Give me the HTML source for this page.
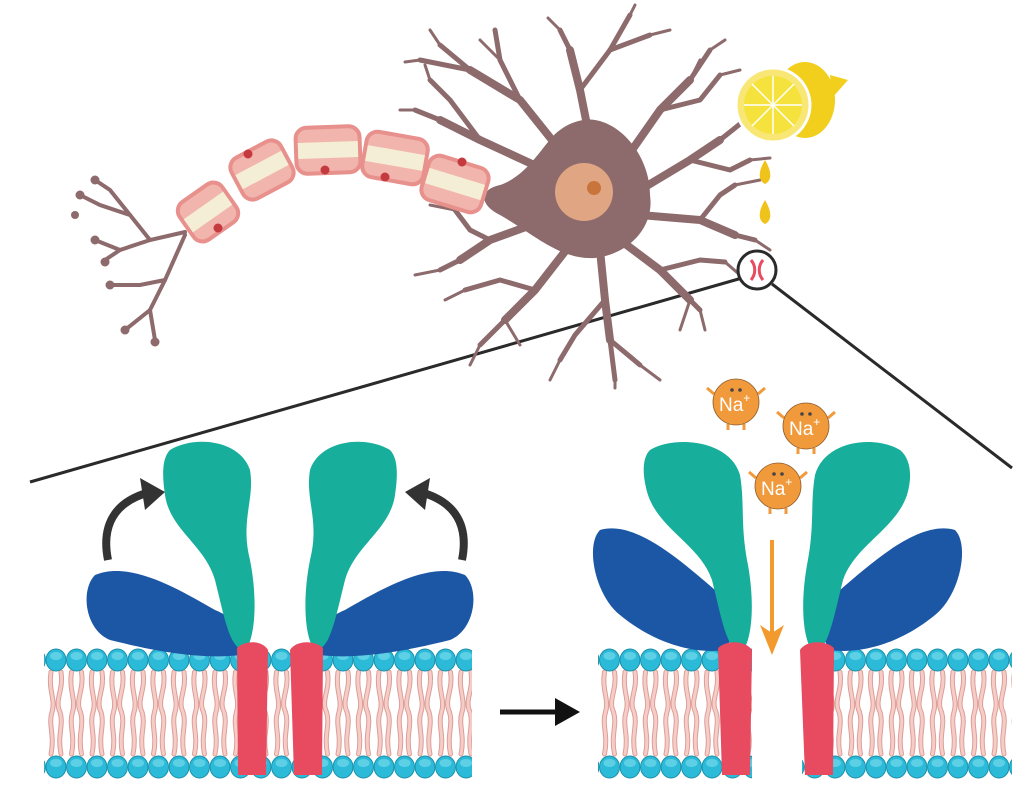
<!DOCTYPE html>
<html><head><meta charset="utf-8"><style>html,body{margin:0;padding:0;background:#fff}svg{display:block}</style></head><body>
<svg width="1024" height="788" viewBox="0 0 1024 788" xmlns="http://www.w3.org/2000/svg">
<defs>
<pattern id="heads" x="46" y="0" width="20.5" height="788" patternUnits="userSpaceOnUse">
<ellipse cx="10" cy="660" rx="10" ry="11" fill="#2bbad8" stroke="#1a8fa8" stroke-width="1"/>
<ellipse cx="10" cy="656" rx="6" ry="4" fill="#7fe0f0" opacity="0.6"/>
<ellipse cx="10" cy="767" rx="10" ry="11" fill="#2bbad8" stroke="#1a8fa8" stroke-width="1"/>
<ellipse cx="10" cy="763" rx="6" ry="4" fill="#7fe0f0" opacity="0.6"/>
</pattern>
<pattern id="tails" x="46" y="0" width="20.5" height="788" patternUnits="userSpaceOnUse">
<g fill="none" stroke="#dc9d98" stroke-width="5" stroke-linecap="round">
<path d="M5 672 C2 690 10 700 6 712 C2 725 9 735 5 754"/>
<path d="M15 672 C18 690 8 700 14 712 C18 725 11 735 15 754"/>
</g>
<g fill="none" stroke="#f6cdc6" stroke-width="3" stroke-linecap="round">
<path d="M5 672 C2 690 10 700 6 712 C2 725 9 735 5 754"/>
<path d="M15 672 C18 690 8 700 14 712 C18 725 11 735 15 754"/>
</g>
</pattern>
</defs>

<line x1="742" y1="278" x2="30" y2="482" stroke="#2a2a2a" stroke-width="3"/>
<line x1="772" y1="284" x2="1012" y2="468" stroke="#2a2a2a" stroke-width="3"/>

<g fill="none" stroke="#8d6a6c" stroke-linecap="round" stroke-linejoin="round">
<g stroke-width="8">
<path d="M560 150 L520 100 L470 70"/><path d="M545 170 L480 140 L440 120"/>
<path d="M590 140 L580 90 L570 50"/><path d="M625 160 L660 110 L690 80"/>
<path d="M640 190 L690 160 L720 140"/><path d="M640 215 L700 220 L735 235"/>
<path d="M620 240 L660 270 L690 300"/><path d="M600 250 L605 300 L610 340"/>
<path d="M570 245 L535 290 L505 320"/><path d="M545 220 L490 240 L460 260"/>
</g>
<g stroke-width="5">
<path d="M470 70 L440 45"/><path d="M520 100 L500 60 L495 30"/><path d="M470 70 L420 60"/>
<path d="M440 120 L415 110"/><path d="M480 140 L450 100 L430 80"/>
<path d="M570 50 L560 30"/><path d="M580 90 L610 50 L630 15"/><path d="M610 50 L650 35"/>
<path d="M690 80 L710 50"/><path d="M660 110 L700 100 L720 75"/>
<path d="M720 140 L745 120"/><path d="M690 160 L730 170 L750 160"/>
<path d="M735 235 L755 240"/><path d="M700 220 L720 195 L735 185"/>
<path d="M690 300 L700 310"/><path d="M660 270 L700 260 L725 262"/>
<path d="M610 340 L615 380"/><path d="M605 300 L575 335 L560 360"/><path d="M610 340 L640 365"/>
<path d="M505 320 L480 345"/><path d="M535 290 L500 280 L465 290"/>
<path d="M460 260 L440 270"/><path d="M490 240 L470 230 L455 210"/>
</g>
<g stroke-width="3">
<path d="M440 45 L430 30"/><path d="M420 60 L405 62"/><path d="M415 110 L400 110"/><path d="M430 80 L425 65"/>
<path d="M560 30 L548 18"/><path d="M630 15 L635 5"/><path d="M650 35 L670 30"/><path d="M710 50 L725 40"/><path d="M720 75 L740 70"/>
<path d="M745 120 L760 110"/><path d="M750 160 L770 158"/><path d="M755 240 L770 250"/><path d="M735 185 L760 180"/>
<path d="M700 310 L705 330"/><path d="M725 262 L740 275"/><path d="M615 380 L615 388"/><path d="M560 360 L550 380"/><path d="M640 365 L660 380"/>
<path d="M480 345 L470 365"/><path d="M465 290 L445 300"/><path d="M440 270 L415 275"/><path d="M455 210 L430 205"/>
<path d="M505 320 L520 345"/><path d="M690 300 L680 330"/><path d="M690 80 L700 60"/><path d="M500 60 L480 40"/>
</g>
</g>
<path d="M595 120 C625 125 650 160 650 195 C655 230 625 255 595 258 C560 260 535 235 500 215 C480 205 478 190 500 185 C530 175 545 140 560 130 C570 122 585 118 595 120Z" fill="#8d6a6c"/>
<circle cx="584" cy="192" r="29" fill="#e0a583"/>
<circle cx="594" cy="188" r="7" fill="#c8743a"/>

<g fill="none" stroke="#8d6a6c" stroke-width="4" stroke-linecap="round">
<path d="M185 232 L150 240 L120 250 L95 240"/><path d="M150 240 L130 215 L100 205 L80 195"/>
<path d="M130 215 L110 190 L95 180"/><path d="M185 235 L165 280 L150 310 L125 330"/><path d="M165 280 L140 285 L110 285"/>
<path d="M150 310 L155 340"/><path d="M120 250 L105 260"/>
</g>
<g fill="#8d6a6c"><circle cx="95" cy="180" r="4.5"/><circle cx="80" cy="195" r="4.5"/><circle cx="95" cy="240" r="4.5"/><circle cx="105" cy="262" r="4.5"/><circle cx="110" cy="285" r="4.5"/><circle cx="125" cy="330" r="4.5"/><circle cx="155" cy="342" r="4.5"/><circle cx="75" cy="215" r="4"/></g>

<g stroke="#e8908c" stroke-width="4">
<g transform="translate(208,212) rotate(-35)"><rect x="-26" y="-23" width="52" height="46" rx="11" fill="#f1b5ad"/><rect x="-24" y="-8" width="48" height="16" fill="#f5eed6" stroke="none"/></g>
<g transform="translate(262,170) rotate(-28)"><rect x="-28" y="-23" width="56" height="46" rx="11" fill="#f1b5ad"/><rect x="-26" y="-8" width="52" height="16" fill="#f5eed6" stroke="none"/></g>
<g transform="translate(328,150) rotate(-2)"><rect x="-32" y="-23" width="64" height="46" rx="11" fill="#f1b5ad"/><rect x="-30" y="-8" width="60" height="16" fill="#f5eed6" stroke="none"/></g>
<g transform="translate(395,158) rotate(10)"><rect x="-31" y="-23" width="62" height="46" rx="11" fill="#f1b5ad"/><rect x="-29" y="-8" width="58" height="16" fill="#f5eed6" stroke="none"/></g>
<g transform="translate(455,184) rotate(17)"><rect x="-31" y="-23" width="62" height="46" rx="11" fill="#f1b5ad"/><rect x="-29" y="-8" width="58" height="16" fill="#f5eed6" stroke="none"/></g>
</g>
<g fill="#c43a3e"><circle cx="248" cy="154" r="4.5"/><circle cx="325" cy="170" r="4.5"/><circle cx="385" cy="177" r="4.5"/><circle cx="462" cy="162" r="4.5"/><circle cx="218" cy="228" r="4.5"/></g>

<ellipse cx="805" cy="100" rx="30" ry="38" fill="#f2cf1d"/>
<path d="M830 75 L848 80 L832 98Z" fill="#f2cf1d"/>
<circle cx="773" cy="105" r="37" fill="#f8e774" stroke="#fff" stroke-width="3"/>
<circle cx="773" cy="105" r="29" fill="#f6e23c"/>
<g stroke="#fff" stroke-width="1.5"><line x1="744" y1="105" x2="802" y2="105"/><line x1="773" y1="76" x2="773" y2="134"/><line x1="752" y1="84" x2="794" y2="126"/><line x1="794" y1="84" x2="752" y2="126"/></g>
<path d="M765 160 C771 170 773 180 765 184 C757 180 759 170 765 160Z" fill="#f0c31a"/>
<path d="M765 200 C771 210 773 220 765 224 C757 220 759 210 765 200Z" fill="#f0c31a"/>

<circle cx="757" cy="270" r="19" fill="#fff" stroke="#2a2a2a" stroke-width="3"/>
<path d="M751 260 C756 266 756 274 751 280 M763 260 C758 266 758 274 763 280" stroke="#e84a5f" stroke-width="3" fill="none"/>

<rect x="44" y="665" width="428" height="95" fill="url(#tails)"/>
<rect x="44" y="645" width="428" height="135" fill="url(#heads)"/>
<rect x="598" y="665" width="414" height="95" fill="url(#tails)"/>
<rect x="598" y="645" width="414" height="135" fill="url(#heads)"/>
<rect x="752" y="640" width="50" height="148" fill="#fff"/>

<path d="M95 575 C130 560 180 590 215 610 C240 620 250 640 240 655 C200 660 150 650 110 640 C85 630 80 590 95 575Z" fill="#1b57a5"/>
<path d="M465 575 C430 560 380 590 345 610 C320 620 310 640 320 655 C360 660 410 650 450 640 C475 630 480 590 465 575Z" fill="#1b57a5"/>
<path d="M170 450 C195 435 240 440 250 470 C255 500 240 520 250 560 C258 600 255 640 245 650 C230 650 225 620 215 580 C205 545 170 530 165 495 C162 475 162 458 170 450Z" fill="#17ae9c"/>
<path d="M390 450 C365 435 320 440 310 470 C305 500 320 520 310 560 C302 600 305 640 315 650 C330 650 335 620 345 580 C355 545 390 530 395 495 C398 475 398 458 390 450Z" fill="#17ae9c"/>
<path d="M237 648 C245 640 262 640 268 650 L266 775 L238 775Z" fill="#e84a5f"/>
<path d="M290 650 C296 640 315 640 323 648 L322 775 L294 775Z" fill="#e84a5f"/>

<path d="M108 560 C100 520 120 500 150 492" stroke="#333" stroke-width="8" fill="none"/>
<path d="M140 478 L165 492 L145 510Z" fill="#333"/>
<path d="M462 560 C470 520 450 500 420 492" stroke="#333" stroke-width="8" fill="none"/>
<path d="M430 478 L405 492 L425 510Z" fill="#333"/>

<path d="M600 530 C635 520 680 560 715 590 C735 605 735 640 725 650 C690 655 650 640 620 615 C595 595 585 545 600 530Z" fill="#1b57a5"/>
<path d="M955 530 C920 520 875 560 840 590 C820 605 820 640 830 650 C865 655 905 640 935 615 C960 595 970 545 955 530Z" fill="#1b57a5"/>
<path d="M650 450 C675 435 730 440 740 475 C745 505 740 525 748 565 C755 605 752 640 742 652 C727 652 722 620 712 580 C700 545 660 530 648 495 C642 475 642 458 650 450Z" fill="#17ae9c"/>
<path d="M900 450 C875 435 825 440 815 475 C810 505 815 525 807 565 C800 605 803 640 813 652 C828 652 833 620 843 580 C855 545 895 530 907 495 C913 475 910 458 900 450Z" fill="#17ae9c"/>
<path d="M718 648 C726 640 745 640 752 650 L750 775 L722 775Z" fill="#e84a5f"/>
<path d="M800 650 C806 640 826 640 834 648 L833 775 L805 775Z" fill="#e84a5f"/>

<line x1="772" y1="540" x2="772" y2="640" stroke="#f29a2e" stroke-width="4"/>
<path d="M760 625 L772 655 L784 625 L772 633Z" fill="#f29a2e"/>

<line x1="500" y1="712" x2="560" y2="712" stroke="#111" stroke-width="5"/>
<path d="M555 698 L580 712 L555 726Z" fill="#111"/>

<g font-family="Liberation Sans, sans-serif" fill="#fff" font-size="19">
<g transform="translate(736,402)"><path d="M-22 -8 L-29 -14 M22 -8 L29 -14 M-8 22 L-8 28 M8 22 L8 28" stroke="#f19a3c" stroke-width="3"/><circle r="23" fill="#f19a3c" stroke="#8a5a2a" stroke-width="0.8"/><text x="-17" y="9">Na<tspan font-size="12" dy="-9">+</tspan></text><circle cx="-4" cy="-12" r="1.8" fill="#444"/><circle cx="4" cy="-12" r="1.8" fill="#444"/></g>
<g transform="translate(806,426)"><path d="M-22 -8 L-29 -14 M22 -8 L29 -14 M-8 22 L-8 28 M8 22 L8 28" stroke="#f19a3c" stroke-width="3"/><circle r="23" fill="#f19a3c" stroke="#8a5a2a" stroke-width="0.8"/><text x="-17" y="9">Na<tspan font-size="12" dy="-9">+</tspan></text><circle cx="-4" cy="-12" r="1.8" fill="#444"/><circle cx="4" cy="-12" r="1.8" fill="#444"/></g>
<g transform="translate(778,486)"><path d="M-22 -8 L-29 -14 M22 -8 L29 -14 M-8 22 L-8 28 M8 22 L8 28" stroke="#f19a3c" stroke-width="3"/><circle r="23" fill="#f19a3c" stroke="#8a5a2a" stroke-width="0.8"/><text x="-17" y="9">Na<tspan font-size="12" dy="-9">+</tspan></text><circle cx="-4" cy="-12" r="1.8" fill="#444"/><circle cx="4" cy="-12" r="1.8" fill="#444"/></g>
</g>
</svg>
</body></html>
